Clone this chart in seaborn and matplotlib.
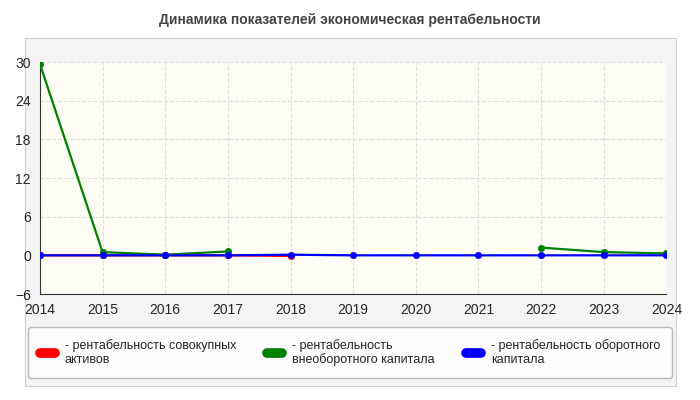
import matplotlib.pyplot as plt
import seaborn as sns
import numpy as np
import pandas as pd

years = [2014, 2015, 2016, 2017, 2018, 2019, 2020, 2021, 2022, 2023, 2024]
red = [0, 0, 0, 0, -0.1, np.nan, np.nan, np.nan, np.nan, np.nan, np.nan]
green = [29.7, 0.5, 0.1, 0.6, np.nan, np.nan, np.nan, np.nan, 1.2, 0.5, 0.3]
blue = [0, 0, 0, 0, 0.1, 0, 0, 0, 0, 0, 0]
labels = ["- рентабельность совокупных\nактивов",
          "- рентабельность\nвнеоборотного капитала",
          "- рентабельность оборотного\nкапитала"]
colors = ["#ff0000", "#008000", "#0000ff"]

sns.set_style("white")
plt.rcParams['font.family'] = ['Liberation Sans', 'DejaVu Sans']

fig = plt.figure(figsize=(7, 4), dpi=100, facecolor="white")
bg = fig.add_axes([0.035, 0.035, 0.93, 0.87])
bg.set_facecolor("#f4f4f4")
bg.set_xticks([]); bg.set_yticks([])
for s in bg.spines.values():
    s.set_color("#d0d0d0")
ax = fig.add_axes([0.057, 0.265, 0.895, 0.58])
ax.set_facecolor("#fdfdf5")

for vals, c, lab in zip([red, green, blue], colors, labels):
    df = pd.DataFrame({"year": years, "v": vals})
    ax.plot(df["year"], df["v"], color=c, lw=1.6, label=lab, zorder=3)
    sns.scatterplot(data=df, x="year", y="v", color=c, s=22, ax=ax, zorder=4,
                    edgecolor=c, legend=False)

ax.set_xlim(2014, 2024)
ax.set_ylim(-6, 30)
ax.set_xticks(years)
ax.set_yticks(range(-6, 31, 6))
ax.set_xlabel(""); ax.set_ylabel("")
ax.grid(True, color="#dddddd", ls="--", lw=0.8)
ax.tick_params(labelsize=10, length=3)
for s in ax.spines.values():
    s.set_visible(False)
ax.spines["left"].set_visible(True)
ax.spines["bottom"].set_visible(True)
ax.spines["left"].set_color("#333333")
ax.spines["bottom"].set_color("#333333")

fig.text(0.5, 0.95, "Динамика показателей экономическая рентабельности",
         ha="center", va="center", fontsize=10, fontweight="bold", color="#444444")

handles, _ = ax.get_legend_handles_labels()
leg = fig.legend(handles[:3], labels, loc="lower center", bbox_to_anchor=(0.5, 0.04),
                 ncol=3, fontsize=9, frameon=True, handlelength=1.2, handleheight=0.8,
                 columnspacing=2.5, borderpad=0.9, fancybox=True, edgecolor="#aaaaaa")
for h in leg.legend_handles:
    h.set_linewidth(7)
plt.savefig("out.png", dpi=100)
